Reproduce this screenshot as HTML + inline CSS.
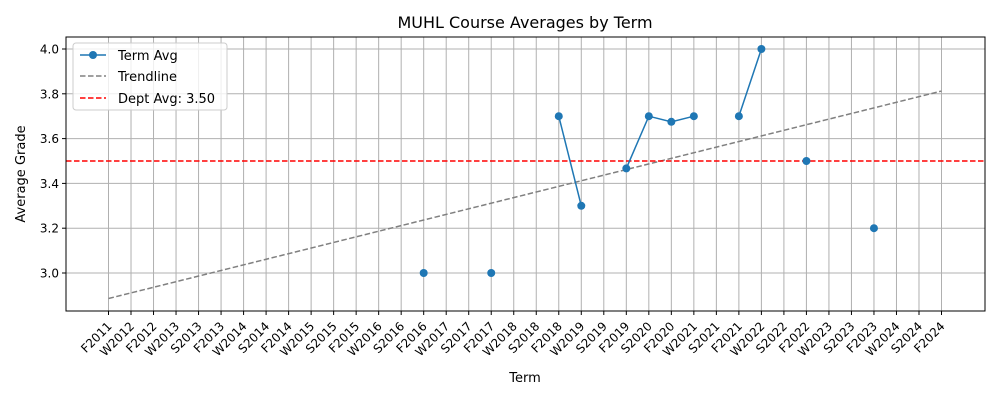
<!DOCTYPE html>
<html><head><meta charset="utf-8"><style>
body{margin:0;background:#fff}
svg{display:block;font-family:"DejaVu Sans","Liberation Sans",sans-serif}
</style></head><body>
<svg id="chart" width="1000" height="400">
<rect width="1000" height="400" fill="#fff"/>
<text x="525" y="28" font-size="16" text-anchor="middle">MUHL Course Averages by Term</text>
<g id="grid"></g>
<g id="xt"></g>
<g id="yt"></g>
<g id="marks"></g>
<rect x="66" y="37" width="919" height="274" fill="none" stroke="#000" stroke-width="1"/>
<text x="525" y="382" font-size="13" text-anchor="middle">Term</text>
<text transform="translate(25,174) rotate(-90)" font-size="13" text-anchor="middle">Average Grade</text>
<g>
<rect x="73" y="43" width="154" height="67" rx="3" fill="#fff" fill-opacity="0.8" stroke="#ccc"/>
<g><line x1="80" y1="55" x2="106" y2="55" stroke="#1f77b4" stroke-width="1.5"/><circle cx="93" cy="55" r="4" fill="#1f77b4"/><text x="118" y="60" font-size="13">Term Avg</text></g>
<g><line x1="80" y1="76" x2="106" y2="76" stroke="#808080" stroke-width="1.5" stroke-dasharray="5.5,2.5"/><text x="118" y="81" font-size="13">Trendline</text></g>
<g><line x1="80" y1="98" x2="106" y2="98" stroke="red" stroke-width="1.5" stroke-dasharray="5.5,2.5"/><text x="118" y="103" font-size="13">Dept Avg: 3.50</text></g>
</g>
</svg>
<script>
const terms=["F2011","W2012","F2012","W2013","S2013","F2013","W2014","S2014","F2014","W2015","S2015","F2015","W2016","S2016","F2016","W2017","S2017","F2017","W2018","S2018","F2018","W2019","S2019","F2019","S2020","F2020","W2021","S2021","F2021","W2022","S2022","F2022","W2023","S2023","F2023","W2024","S2024","F2024"];
const avgs=[null,null,null,null,null,null,null,null,null,null,null,null,null,null,3.0,null,null,3.0,null,null,3.7,3.3,null,3.467,3.7,3.675,3.7,null,3.7,4.0,null,3.5,null,null,3.2,null,null,null];
const yTicks=[3.0,3.2,3.4,3.6,3.8,4.0];
const deptAvg=[3.5];
const NS="http://www.w3.org/2000/svg";
const L=66,R=985,T=37,B=311;
const x=i=>108.5+i*(941.5-108.5)/(terms.length-1);
const y=v=>273-(v-3.0)*224;
function mk(tag,attrs,parent){const e=document.createElementNS(NS,tag);for(const k in attrs)e.setAttribute(k,attrs[k]);parent.appendChild(e);return e;}
const grid=document.getElementById('grid'),xt=document.getElementById('xt'),yt=document.getElementById('yt'),marks=document.getElementById('marks');
terms.forEach((t,i)=>{
 const g=mk('line',{x1:x(i),x2:x(i),y1:T,y2:B,stroke:'#b0b0b0','stroke-width':1},grid);
 
 
 mk('line',{x1:x(i),x2:x(i),y1:B,y2:B+4,stroke:'#000'},xt);
 const tx=mk('text',{x:x(i)+4,y:B+16,'font-size':12,'text-anchor':'end',transform:`rotate(-45 ${x(i)+4} ${B+16})`},xt);
 tx.textContent=t;
 
 
});
yTicks.forEach(v=>{
 const g=mk('line',{x1:L,x2:R,y1:y(v),y2:y(v),stroke:'#b0b0b0','stroke-width':1},grid);
 
 
 mk('line',{x1:L-4,x2:L,y1:y(v),y2:y(v),stroke:'#000'},yt);
 const tx=mk('text',{x:L-7,y:y(v)+4.5,'font-size':12,'text-anchor':'end'},yt);
 tx.textContent=v.toFixed(1);
 
 
});
let n=0,sx=0,sy=0,sxx=0,sxy=0;
avgs.forEach((v,i)=>{if(v!=null){n++;sx+=i;sy+=v;sxx+=i*i;sxy+=i*v;}});
const m=(n*sxy-sx*sy)/(n*sxx-sx*sx),b=(sy-m*sx)/n;
const last=terms.length-1;
const tl=mk('line',{x1:x(0),y1:y(b),x2:x(last),y2:y(b+m*last),stroke:'#808080','stroke-width':1.5,'stroke-dasharray':'5.5,2.5'},marks);


const dl=mk('line',{x1:L,x2:R,y1:y(deptAvg[0]),y2:y(deptAvg[0]),stroke:'red','stroke-width':1.5,'stroke-dasharray':'5.5,2.5'},marks);


let seg=[];
const flush=()=>{if(seg.length>1){const p=mk('polyline',{points:seg.join(' '),fill:'none',stroke:'#1f77b4','stroke-width':1.5},marks);}seg=[];};
avgs.forEach((v,i)=>{if(v==null)flush();else seg.push(x(i)+','+y(v));});flush();
avgs.forEach((v,i)=>{if(v!=null){const c=mk('circle',{cx:x(i),cy:y(v),r:4,fill:'#1f77b4'},marks);}});
</script>
</body></html>
